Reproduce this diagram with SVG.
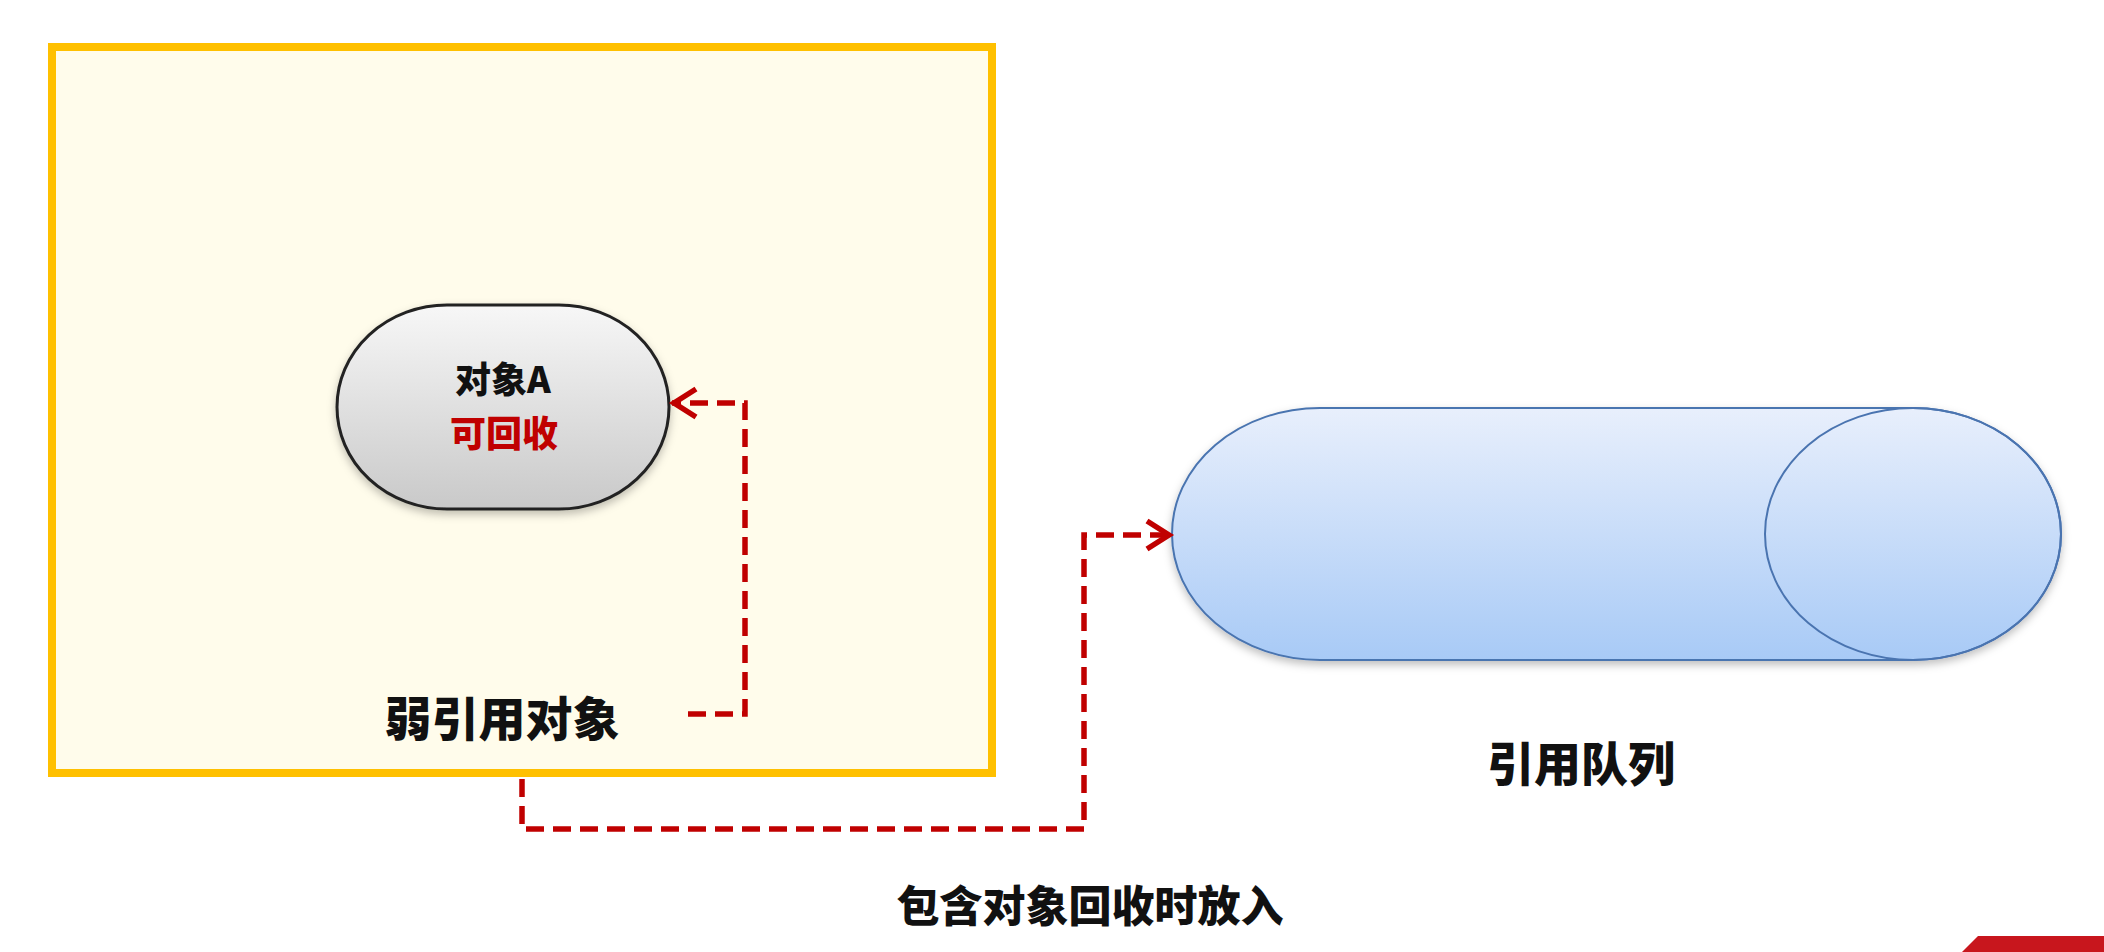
<svg xmlns="http://www.w3.org/2000/svg" width="2104" height="952" viewBox="0 0 2104 952">
  <defs>
    <linearGradient id="pillGrad" x1="0" y1="0" x2="0" y2="1">
      <stop offset="0" stop-color="#F7F7F7"/>
      <stop offset="1" stop-color="#C9C9C9"/>
    </linearGradient>
    <linearGradient id="cylGrad" x1="0" y1="0" x2="0" y2="1">
      <stop offset="0" stop-color="#E8EFFC"/>
      <stop offset="1" stop-color="#A8CAF6"/>
    </linearGradient>
    <filter id="shadow" x="-10%" y="-10%" width="120%" height="130%">
      <feDropShadow dx="0" dy="4" stdDeviation="4" flood-color="#000" flood-opacity="0.25"/>
    </filter>
    <marker id="arrow" viewBox="-30 -20 40 40" refX="0" refY="0" markerWidth="40" markerHeight="40" markerUnits="userSpaceOnUse" orient="auto">
      <path d="M -24 -14 L -2 0 L -24 14" fill="none" stroke="#C00000" stroke-width="5.5" stroke-linejoin="miter"/>
    </marker>
    <style>
      .conn { fill: none; stroke: #C00000; stroke-width: 5.5; stroke-dasharray: 18 9; }
      .label { font-family: "Noto Sans CJK SC", "Liberation Sans", sans-serif; font-weight: 900; text-anchor: middle; fill: #111; }
    </style>
  </defs>

  <rect width="2104" height="952" fill="#FFFFFF"/>

  <g id="weak-ref-box">
    <rect x="52" y="47" width="940" height="726" fill="#FFFCEB" stroke="#FFC000" stroke-width="8"/>
    <text class="label" x="502" y="736" font-size="47">弱引用对象</text>
  </g>

  <g id="object-a">
    <rect x="337" y="305" width="332" height="204" rx="110" ry="102" fill="url(#pillGrad)" stroke="#222" stroke-width="3" filter="url(#shadow)"/>
    <text class="label" x="503" y="393" font-size="36">对象A</text>
    <text class="label" x="504" y="447" font-size="36" style="fill:#C00000">可回收</text>
  </g>

  <g id="reference-queue">
    <path d="M 1320 408 L 1913 408 A 148 126 0 0 1 1913 660 L 1320 660 A 148 126 0 0 1 1320 408 Z" fill="url(#cylGrad)" stroke="#4A74B0" stroke-width="2" filter="url(#shadow)"/>
    <ellipse cx="1913" cy="534" rx="148" ry="126" fill="none" stroke="#4A74B0" stroke-width="2"/>
    <text class="label" x="1581" y="781" font-size="47">引用队列</text>
  </g>

  <g id="connectors">
    <path class="conn" d="M 688 714 L 745 714 L 745 403 L 672 403" marker-end="url(#arrow)"/>
    <path class="conn" d="M 522 779 L 522 829 L 1084 829 L 1084 535 L 1171 535" marker-end="url(#arrow)"/>
    <text class="label" x="1090" y="922" font-size="43">包含对象回收时放入</text>
  </g>

  <polygon points="1962,952 1978,936 2104,936 2104,952" fill="#C8161D"/>
</svg>
